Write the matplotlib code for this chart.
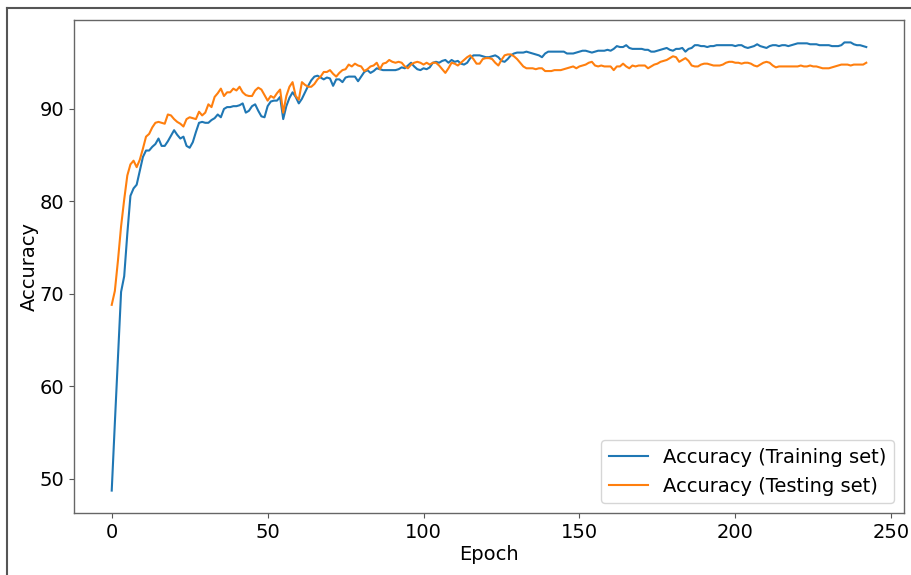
import numpy as np
import matplotlib.pyplot as plt
from matplotlib.lines import Line2D

# Accuracy per epoch
train_acc = [
    48.7, 56.0, 63.0, 70.2, 71.9, 76.5, 80.6, 81.4, 81.8, 83.3,
    84.8, 85.5, 85.5, 85.9, 86.2, 86.8, 86.0, 86.0, 86.5, 87.1,
    87.7, 87.2, 86.8, 87.0, 86.0, 85.8, 86.4, 87.5, 88.5, 88.6,
    88.5, 88.5, 88.8, 89.0, 89.4, 89.1, 90.0, 90.2, 90.2, 90.3,
    90.3, 90.4, 90.6, 89.6, 89.8, 90.3, 90.5, 89.8, 89.2, 89.1,
    90.3, 90.8, 90.9, 90.9, 91.3, 88.9, 90.3, 91.2, 91.8, 91.3,
    90.6, 91.1, 91.8, 92.5, 93.1, 93.5, 93.6, 93.4, 93.2, 93.4,
    93.3, 92.5, 93.2, 93.2, 92.9, 93.4, 93.5, 93.5, 93.5, 93.0,
    93.5, 94.0, 94.2, 93.9, 94.1, 94.4, 94.3, 94.2, 94.2, 94.2,
    94.2, 94.2, 94.3, 94.5, 94.4, 94.7, 95.0, 94.6, 94.3, 94.2,
    94.4, 94.3, 94.5, 95.0, 95.1, 95.0, 95.2, 95.3, 95.0, 95.3,
    95.1, 95.2, 94.9, 94.8, 95.0, 95.5, 95.8, 95.8, 95.8, 95.7,
    95.6, 95.6, 95.7, 95.8, 95.6, 95.2, 95.1, 95.4, 95.8, 96.0,
    96.1, 96.1, 96.1, 96.2, 96.1, 96.0, 95.9, 95.8, 95.6, 96.0,
    96.2, 96.2, 96.2, 96.2, 96.2, 96.2, 96.0, 96.0, 96.0, 96.1,
    96.2, 96.3, 96.3, 96.2, 96.1, 96.2, 96.3, 96.3, 96.3, 96.4,
    96.3, 96.5, 96.8, 96.7, 96.7, 96.9, 96.6, 96.5, 96.5, 96.5,
    96.5, 96.4, 96.4, 96.2, 96.2, 96.3, 96.4, 96.5, 96.6, 96.4,
    96.3, 96.5, 96.5, 96.6, 96.2, 96.5, 96.6, 96.9, 96.9, 96.8,
    96.8, 96.7, 96.8, 96.8, 96.9, 96.9, 96.9, 96.9, 96.9, 96.9,
    96.8, 96.9, 96.9, 96.7, 96.6, 96.7, 96.8, 97.0, 96.8, 96.7,
    96.6, 96.8, 96.9, 96.9, 96.8, 96.9, 96.9, 96.8, 96.9, 97.0,
    97.1, 97.1, 97.1, 97.1, 97.0, 97.0, 97.0, 96.9, 96.9, 96.9,
    96.9, 96.8, 96.8, 96.8, 96.9, 97.2, 97.2, 97.2, 97.0, 96.9,
    96.9, 96.8, 96.7,
]

test_acc = [
    68.8, 70.3, 73.6, 77.3, 80.2, 82.8, 84.0, 84.4, 83.7, 84.5,
    85.7, 87.0, 87.3, 88.0, 88.5, 88.6, 88.5, 88.4, 89.4, 89.3,
    88.9, 88.6, 88.4, 88.1, 88.9, 89.1, 89.0, 88.9, 89.7, 89.3,
    89.6, 90.5, 90.2, 91.3, 91.7, 92.2, 91.4, 91.8, 91.8, 92.2,
    92.0, 92.4, 91.8, 91.5, 91.4, 91.4, 92.0, 92.3, 92.1, 91.5,
    90.9, 91.4, 91.2, 91.7, 92.1, 89.6, 91.4, 92.4, 92.9, 91.4,
    91.0, 92.9, 92.6, 92.4, 92.4, 92.7, 93.2, 93.5, 94.0, 94.0,
    94.2, 93.8, 93.5, 93.9, 94.2, 94.3, 94.8, 94.6, 94.9, 94.7,
    94.6, 94.1, 94.3, 94.6, 94.7, 95.0, 94.3, 94.9, 95.0, 95.3,
    95.1, 95.0, 95.1, 95.0, 94.6, 94.4, 94.8, 95.0, 95.1, 95.0,
    94.8, 95.0, 94.8, 95.0, 95.0, 94.7, 94.3, 93.9, 94.4, 95.0,
    94.9, 94.7, 95.0, 95.3, 95.6, 95.8, 95.4, 94.9, 94.9, 95.4,
    95.5, 95.5, 95.4, 95.0, 94.7, 95.3, 95.8, 95.9, 95.9, 95.7,
    95.4, 95.0, 94.6, 94.4, 94.4, 94.4, 94.3, 94.4, 94.4, 94.1,
    94.1, 94.1, 94.2, 94.2, 94.2, 94.3, 94.4, 94.5, 94.6, 94.4,
    94.6, 94.7, 94.8, 95.0, 95.1, 94.7, 94.6, 94.7, 94.6, 94.6,
    94.6, 94.2, 94.6, 94.6, 94.9, 94.6, 94.4, 94.7, 94.6, 94.7,
    94.7, 94.7, 94.4, 94.6, 94.8, 94.9, 95.1, 95.2, 95.3, 95.5,
    95.7, 95.6, 95.1, 95.3, 95.5, 95.2, 94.7, 94.6, 94.6, 94.8,
    94.9, 94.9, 94.8, 94.7, 94.7, 94.7, 94.8, 95.0, 95.1, 95.1,
    95.0, 95.0, 94.9, 95.0, 95.0, 94.9, 94.7, 94.6, 94.8, 95.0,
    95.1, 95.0, 94.7, 94.5, 94.6, 94.6, 94.6, 94.6, 94.6, 94.6,
    94.6, 94.7, 94.6, 94.6, 94.7, 94.6, 94.6, 94.5, 94.4, 94.4,
    94.4, 94.5, 94.6, 94.7, 94.8, 94.8, 94.8, 94.7, 94.8, 94.8,
    94.8, 94.8, 95.0,
]

epochs = np.arange(len(train_acc))

fig = plt.figure(figsize=(9.12, 5.75), dpi=100)
ax = fig.add_axes([74 / 912, 1 - 513 / 575, 830 / 912, 493 / 575])

ax.plot(epochs, train_acc, color="#1f77b4", linewidth=1.5, label="Accuracy (Training set)")
ax.plot(epochs, test_acc, color="#ff7f0e", linewidth=1.5, label="Accuracy (Testing set)")

ax.set_xlabel("Epoch", fontsize=14, labelpad=2)
ax.set_ylabel("Accuracy", fontsize=14, labelpad=0.5)
ax.tick_params(labelsize=14, color="#555555")
for spine in ax.spines.values():
    spine.set_color("#666666")
    spine.set_linewidth(1.0)

ax.legend(loc="lower right", fontsize=14)

# frame of the screenshot around the figure
fig.add_artist(Line2D([7.5 / 912, 7.5 / 912], [0, 1 - 7.5 / 575],
                      transform=fig.transFigure, color="#555555", linewidth=1.5))
fig.add_artist(Line2D([7.5 / 912, 1], [1 - 7.5 / 575, 1 - 7.5 / 575],
                      transform=fig.transFigure, color="#555555", linewidth=1.5))

fig.savefig("out.png", dpi=100)
